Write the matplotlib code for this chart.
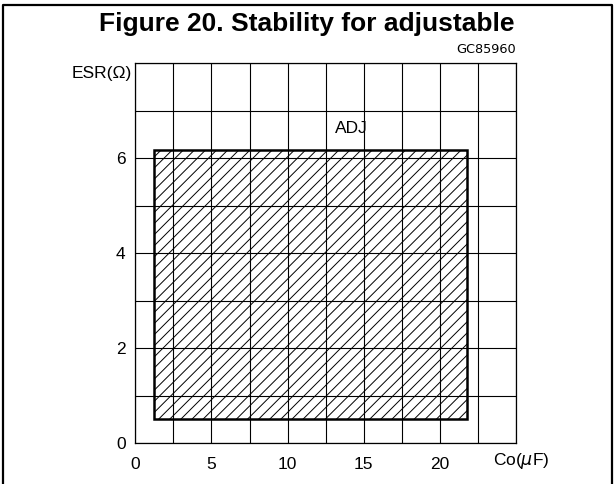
import numpy as np
import matplotlib.pyplot as plt
from matplotlib.patches import Rectangle
from matplotlib.lines import Line2D

# axis values
x_ticks = [0, 5, 10, 15, 20]
y_ticks = [0, 2, 4, 6]
x_grid = np.arange(0, 25.1, 2.5)
y_grid = np.arange(0, 8.1, 1)

# stable region for ADJ version (Co in uF, ESR in ohm)
co_min, co_max = 1.23, 21.8
esr_min, esr_max = 0.52, 6.17

plt.rcParams['font.family'] = ['Liberation Sans', 'DejaVu Sans']
plt.rcParams['hatch.linewidth'] = 0.7

fig = plt.figure(figsize=(6.14, 4.84), dpi=100)
ax = fig.add_axes([0.2204, 0.0841, 0.6200, 0.7851])

ax.set_xlim(0, 25)
ax.set_ylim(0, 8)
ax.set_xticks(x_ticks)
ax.set_yticks(y_ticks)
ax.set_xticks(x_grid, minor=True)
ax.set_yticks(y_grid, minor=True)
ax.tick_params(which='both', length=0, labelsize=12.5, colors='black')
ax.tick_params(axis='x', pad=10)
ax.tick_params(axis='y', pad=7)
ax.grid(which='both', color='black', linewidth=0.8)
for s in ax.spines.values():
    s.set_linewidth(0.9)

# hatched region
rect = Rectangle((co_min, esr_min), co_max - co_min, esr_max - esr_min,
                 fill=False, edgecolor='black', linewidth=1.8, hatch='///', zorder=3)
ax.add_patch(rect)

ax.text(14.2, 6.63, 'ADJ', fontsize=12.5, ha='center', va='center')
ax.text(-0.008, 0.974, 'ESR(Ω)', transform=ax.transAxes, fontsize=12.5,
        ha='right', va='center')
ax.text(25.35, -0.38, r'Co($\mu$F)', fontsize=12.5, ha='center', va='center',
        clip_on=False)
ax.text(1.0, 1.02, 'GC85960', transform=ax.transAxes, fontsize=9.3,
        family='DejaVu Sans', ha='right', va='bottom')

fig.text(0.5, 0.936, 'Figure 20. Stability for adjustable', fontsize=19,
         fontweight='bold', ha='center', va='baseline')

# frame around the figure
W, H = 614, 484
fx = [2.5 / W, 2.5 / W, 611.5 / W, 611.5 / W]
fy = [0, 1 - 4.5 / H, 1 - 4.5 / H, 0]
fig.add_artist(Line2D(fx, fy, transform=fig.transFigure, color='black', linewidth=1.6))

fig.savefig('out.png', dpi=100)
